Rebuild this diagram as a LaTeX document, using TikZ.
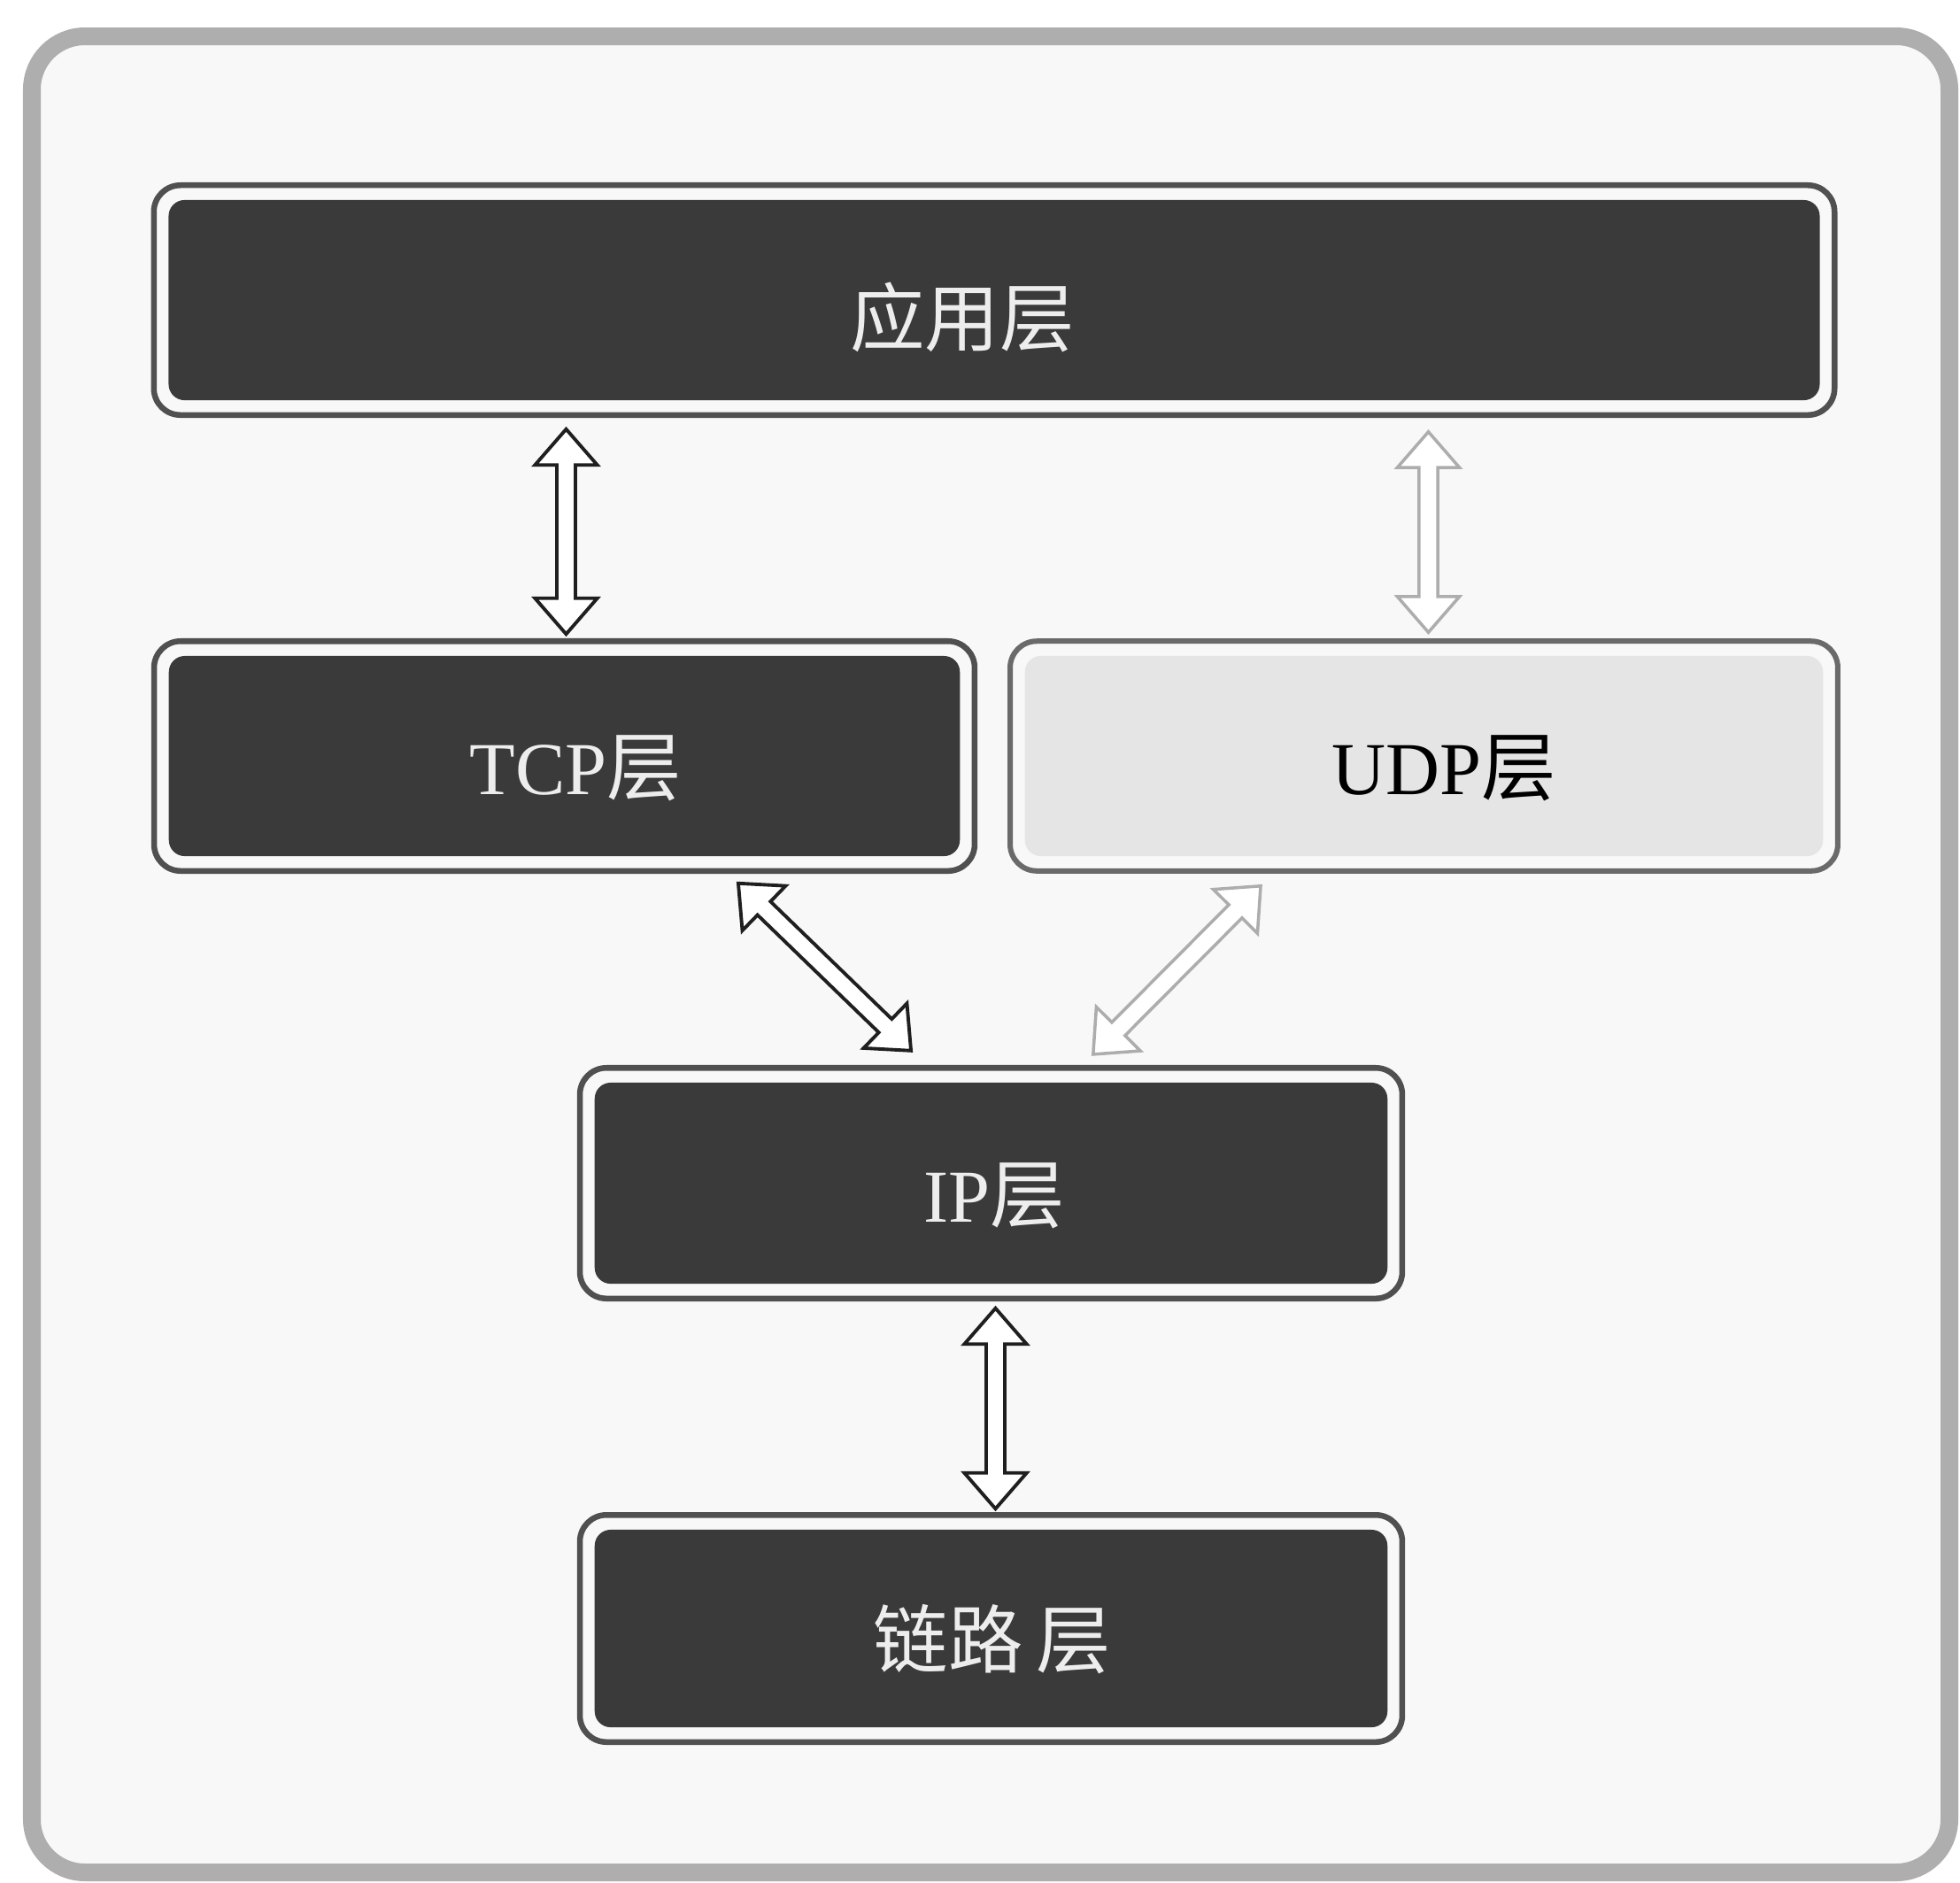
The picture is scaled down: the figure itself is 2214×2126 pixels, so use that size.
\documentclass[tikz,border=0pt]{standalone}
\usepackage{fontspec}
\setmainfont{Liberation Serif}
\newfontfamily\cjk{Noto Sans CJK SC}
\usetikzlibrary{calc}
\definecolor{boxdark}{HTML}{3A3A3A}
\definecolor{boxtext}{HTML}{EDEDED}
\definecolor{darkedge}{HTML}{505050}
\definecolor{boxlight}{HTML}{E5E5E5}
\definecolor{lightedge}{HTML}{6A6A6A}
\definecolor{framegray}{HTML}{AEAEAE}
\definecolor{paper}{HTML}{F8F8F8}
\tikzset{
  layer/.style={rectangle, rounded corners=0.18cm, inner sep=0pt,
    text height=28pt, text depth=3pt,
    font=\fontsize{24pt}{28pt}\selectfont},
  darkbox/.style={layer, fill=boxdark, text=boxtext},
  lightbox/.style={layer, fill=boxlight, text=black},
  darkframe/.style={draw=darkedge, line width=0.065cm, rounded corners=0.3cm},
  lightframe/.style={draw=lightedge, line width=0.06cm, rounded corners=0.3cm},
  arrowdark/.style={draw=black!88, fill=white, line width=1.1pt, line join=miter},
  arrowlight/.style={draw=black!32, fill=white, line width=1pt, line join=miter},
  ha/.style={shift={(\p1)}, rotate=\n1}
}
\newcommand\hollowarrow[3]{%
  \draw[#1] let \p1=(#2), \p2=(#3),
    \n1={atan2(\y2-\y1,\x2-\x1)}, \n2={veclen(\x2-\x1,\y2-\y1)} in
    ([ha]0pt,0pt) -- ([ha]11.5pt,10pt) -- ([ha]11.5pt,3pt) -- ([ha]\n2-11.5pt,3pt)
    -- ([ha]\n2-11.5pt,10pt) -- ([ha]\n2,0pt) -- ([ha]\n2-11.5pt,-10pt)
    -- ([ha]\n2-11.5pt,-3pt) -- ([ha]11.5pt,-3pt) -- ([ha]11.5pt,-10pt) -- cycle;}
\newcommand\layerframe[2]{%
  \draw[#2] ([shift={(-16,-16)}]#1.north west) rectangle ([shift={(16,16)}]#1.south east);}
\begin{document}
\begin{tikzpicture}[x=0.01cm, y=-0.01cm]
  \useasboundingbox (0,0) rectangle (2214,2126);
  % outer frame
  \draw[draw=framegray, fill=paper, line width=0.2cm, rounded corners=0.6cm]
    (36,41) rectangle (2202,2115);
  % layers
  \node[darkbox, minimum width=18.64cm, minimum height=2.26cm] (app) at (1123,339)
    {\raisebox{-0.08cm}{\cjk 应用层}\kern0.72cm};
  \node[darkbox, minimum width=8.93cm, minimum height=2.26cm] (tcp) at (637.5,854)
    {\hspace{0.26cm}TCP{\cjk 层}};
  \node[lightbox, minimum width=9.01cm, minimum height=2.26cm] (udp) at (1608.5,854)
    {\hspace{0.46cm}UDP{\cjk 层}};
  \node[darkbox, minimum width=8.95cm, minimum height=2.27cm] (ip) at (1119.5,1336.5)
    {\hspace{0.08cm}IP{\cjk 层}};
  \node[darkbox, minimum width=8.95cm, minimum height=2.23cm] (link) at (1119.5,1839.5)
    {\hspace{0.03cm}{\cjk 链路\hspace{0.15cm}层}};
  \layerframe{app}{darkframe}
  \layerframe{tcp}{darkframe}
  \layerframe{udp}{lightframe}
  \layerframe{ip}{darkframe}
  \layerframe{link}{darkframe}
  % connectors
  \hollowarrow{arrowdark}{$(tcp.north |- app.south)+(2,32)$}{$(tcp.north)+(2,-24)$}
  \hollowarrow{arrowlight}{$(udp.north |- app.south)+(5,35)$}{$(udp.north)+(5,-26)$}
  \hollowarrow{arrowdark}{$(tcp.south east)+(-251,30)$}{$(ip.north)+(-90,-35)$}
  \hollowarrow{arrowlight}{$(udp.south west)+(267,33)$}{$(ip.north)+(115,-31)$}
  \hollowarrow{arrowdark}{$(ip.south)+(5,27)$}{$(link.north)+(5,-23)$}
\end{tikzpicture}
\end{document}
